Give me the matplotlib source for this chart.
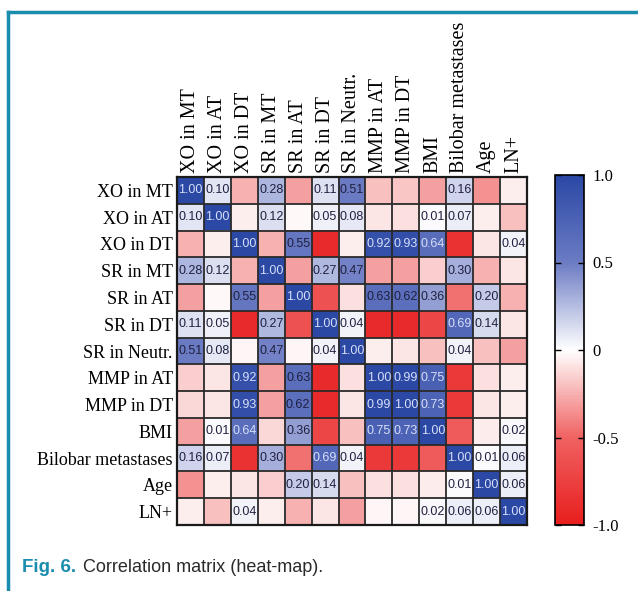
import numpy as np
import matplotlib
matplotlib.use("Agg")
import matplotlib.pyplot as plt
from matplotlib.colors import LinearSegmentedColormap
from matplotlib.lines import Line2D

labels = ["XO in MT", "XO in AT", "XO in DT", "SR in MT", "SR in AT", "SR in DT",
          "SR in Neutr.", "MMP in AT", "MMP in DT", "BMI", "Bilobar metastases",
          "Age", "LN+"]

# correlation values (negative cells carry no label, so estimated from colour)
corr = np.array([
    [1.00, 0.10, -0.25, 0.28, -0.30, 0.11, 0.51, -0.20, -0.18, -0.30, 0.16, -0.35, -0.05],
    [0.10, 1.00, -0.05, 0.12, -0.02, 0.05, 0.08, -0.08, -0.10, 0.01, 0.07, -0.05, -0.20],
    [-0.25, -0.05, 1.00, -0.25, 0.55, -0.90, -0.05, 0.92, 0.93, 0.64, -0.85, -0.08, 0.04],
    [0.28, 0.12, -0.25, 1.00, -0.30, 0.27, 0.47, -0.30, -0.30, -0.15, 0.30, -0.25, -0.08],
    [-0.30, -0.02, 0.55, -0.30, 1.00, -0.62, -0.10, 0.63, 0.62, 0.36, -0.45, 0.20, -0.25],
    [0.11, 0.05, -0.90, 0.27, -0.62, 1.00, 0.04, -0.90, -0.90, -0.70, 0.69, 0.14, -0.08],
    [0.51, 0.08, -0.03, 0.47, -0.03, 0.04, 1.00, -0.05, -0.08, -0.20, 0.04, -0.20, -0.30],
    [-0.15, -0.08, 0.92, -0.30, 0.63, -0.90, -0.10, 1.00, 0.99, 0.75, -0.80, -0.10, -0.05],
    [-0.12, -0.08, 0.93, -0.30, 0.62, -0.90, -0.08, 0.99, 1.00, 0.73, -0.80, -0.08, -0.05],
    [-0.30, 0.01, 0.64, -0.12, 0.36, -0.70, -0.20, 0.75, 0.73, 1.00, -0.55, -0.06, 0.02],
    [0.16, 0.07, -0.85, 0.30, -0.45, 0.69, 0.04, -0.80, -0.80, -0.55, 1.00, 0.01, 0.06],
    [-0.35, -0.05, -0.08, -0.15, 0.20, 0.14, -0.20, -0.10, -0.10, -0.06, 0.01, 1.00, 0.06],
    [-0.05, -0.20, 0.04, -0.05, -0.25, -0.08, -0.30, -0.03, -0.03, 0.02, 0.06, 0.06, 1.00],
])

cbar_ticks = [1.0, 0.5, 0, -0.5, -1.0]
cbar_ticklabels = ["1.0", "0.5", "0", "-0.5", "-1.0"]

cmap = LinearSegmentedColormap.from_list(
    "rwb", [(0.0, "#e81e1e"), (0.25, "#f06262"), (0.5, "#ffffff"),
            (0.75, "#6c7cc4"), (1.0, "#2a48a4")])
serif = "Liberation Serif"

fig = plt.figure(figsize=(6.38, 5.91), dpi=100)

ax = fig.add_axes([177 / 638, 1 - 525 / 591, 350 / 638, 348 / 591])
im = ax.imshow(corr, cmap=cmap, vmin=-1, vmax=1, aspect="auto")

n = len(labels)
ax.set_xticks(range(n))
ax.set_yticks(range(n))
ax.set_xticklabels(labels, rotation=90, family=serif, fontsize=14.5)
ax.set_yticklabels(labels, family=serif, fontsize=13)
ax.xaxis.tick_top()
ax.tick_params(length=0, pad=3)

# cell borders
ax.set_xticks(np.arange(-0.5, n, 1), minor=True)
ax.set_yticks(np.arange(-0.5, n, 1), minor=True)
ax.grid(which="minor", color="#2a2a2a", linewidth=1.3)
ax.tick_params(which="minor", length=0)
for s in ax.spines.values():
    s.set_linewidth(1.6)
    s.set_color("#1a1a1a")

for i in range(n):
    for j in range(n):
        v = corr[i, j]
        if v < 0:
            continue
        col = "#d6def8" if v > 0.63 else "#202040"
        ax.text(j, i, f"{v:.2f}", ha="center", va="center", fontsize=9,
                family="Liberation Sans", color=col)

cax = fig.add_axes([555 / 638, 1 - 525 / 591, 29 / 638, 350 / 591])
cb = fig.colorbar(im, cax=cax, ticks=cbar_ticks)
cb.ax.set_yticklabels(cbar_ticklabels, family=serif, fontsize=12)
cb.ax.tick_params(direction="in", length=4, width=1, left=True, right=True, pad=6)
cb.outline.set_linewidth(1.2)

# teal frame and caption
teal = "#1a8cae"
fig.add_artist(Line2D([8 / 638, 1], [1 - 12 / 591] * 2, color=teal, lw=2.5))
fig.add_artist(Line2D([8 / 638] * 2, [0, 1 - 12 / 591], color=teal, lw=2.5))
fig.text(22 / 638, 1 - 568 / 591, "Fig. 6.", color=teal, fontsize=13.5,
         fontweight="bold", family="Liberation Sans", va="center")
fig.text(83 / 638, 1 - 568 / 591, "Correlation matrix (heat-map).", color="#2a2a2a",
         fontsize=13, family="Liberation Sans", va="center")

fig.savefig("out.png", dpi=100)
